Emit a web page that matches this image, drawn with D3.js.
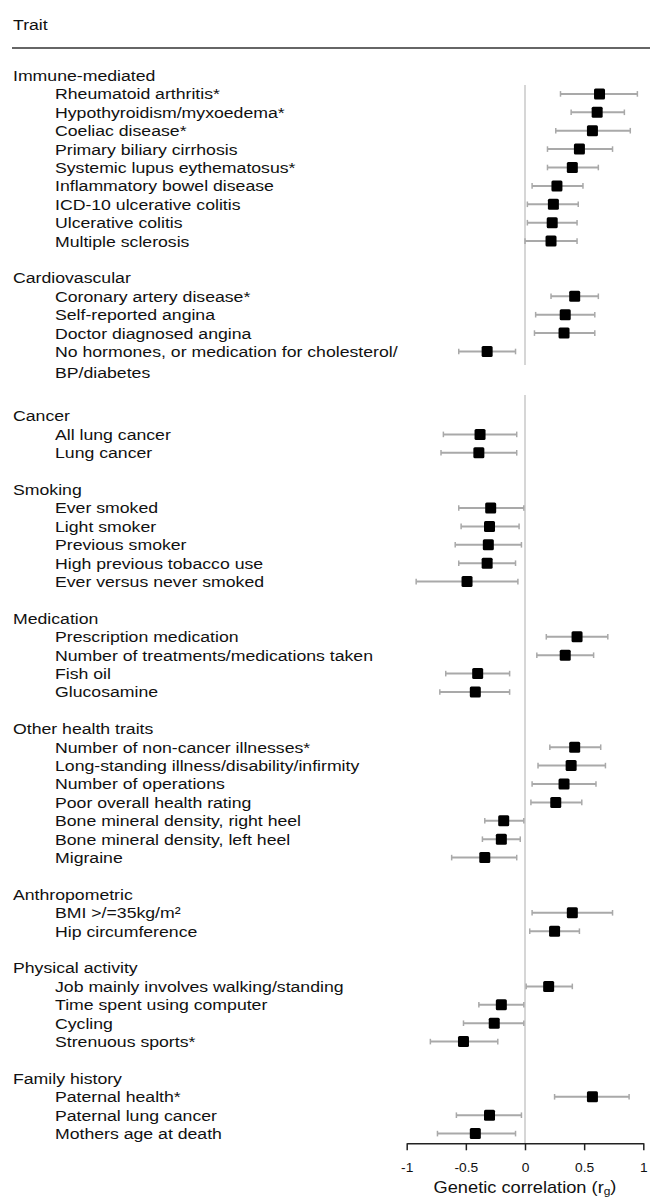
<!DOCTYPE html>
<html>
<head>
<meta charset="utf-8">
<script src="https://cdn.jsdelivr.net/npm/d3@7"></script>
<style>
  body { margin: 0; background: #fff; }
  svg { display: block; font-family: "Liberation Sans", Arial, sans-serif; }
</style>
</head>
<body>
<div id="chart"></div>
<script>

//
// data
//
var groupNames = ["Immune-mediated", "Cardiovascular", "Cancer", "Smoking", "Medication",
  "Other health traits", "Anthropometric", "Physical activity", "Family history"];

var traitGroup = [0,0,0,0,0,0,0,0,0, 1,1,1,1, 2,2, 3,3,3,3,3, 4,4,4,4, 5,5,5,5,5,5,5, 6,6, 7,7,7,7, 8,8,8];

var traitNames = [
  "Rheumatoid arthritis*", "Hypothyroidism/myxoedema*", "Coeliac disease*", "Primary biliary cirrhosis",
  "Systemic lupus eythematosus*", "Inflammatory bowel disease", "ICD-10 ulcerative colitis",
  "Ulcerative colitis", "Multiple sclerosis",
  "Coronary artery disease*", "Self-reported angina", "Doctor diagnosed angina",
  "No hormones, or medication for cholesterol/\nBP/diabetes",
  "All lung cancer", "Lung cancer",
  "Ever smoked", "Light smoker", "Previous smoker", "High previous tobacco use", "Ever versus never smoked",
  "Prescription medication", "Number of treatments/medications taken", "Fish oil", "Glucosamine",
  "Number of non-cancer illnesses*", "Long-standing illness/disability/infirmity", "Number of operations",
  "Poor overall health rating", "Bone mineral density, right heel", "Bone mineral density, left heel", "Migraine",
  "BMI >/=35kg/m²", "Hip circumference",
  "Job mainly involves walking/standing", "Time spent using computer", "Cycling", "Strenuous sports*",
  "Paternal health*", "Paternal lung cancer", "Mothers age at death"
];

var rg = [0.63, 0.61, 0.57, 0.46, 0.40, 0.27, 0.24, 0.23, 0.22,
  0.42, 0.34, 0.33, -0.32,
  -0.38, -0.39,
  -0.29, -0.30, -0.31, -0.32, -0.49,
  0.44, 0.34, -0.40, -0.42,
  0.42, 0.39, 0.33, 0.26, -0.18, -0.20, -0.34,
  0.40, 0.25,
  0.20, -0.20, -0.26, -0.52,
  0.57, -0.30, -0.42];

var ciLow = [0.30, 0.39, 0.26, 0.19, 0.19, 0.06, 0.02, 0.02, 0.00,
  0.22, 0.09, 0.08, -0.56,
  -0.69, -0.71,
  -0.56, -0.54, -0.59, -0.56, -0.92,
  0.18, 0.10, -0.67, -0.72,
  0.21, 0.11, 0.06, 0.05, -0.34, -0.36, -0.62,
  0.06, 0.04,
  0.01, -0.39, -0.52, -0.80,
  0.25, -0.58, -0.74];

var ciHigh = [0.95, 0.84, 0.89, 0.74, 0.62, 0.49, 0.45, 0.44, 0.44,
  0.62, 0.59, 0.59, -0.08,
  -0.07, -0.07,
  -0.01, -0.05, -0.03, -0.08, -0.06,
  0.70, 0.58, -0.13, -0.13,
  0.64, 0.68, 0.60, 0.48, -0.01, -0.04, -0.07,
  0.74, 0.46,
  0.40, -0.01, -0.01, -0.23,
  0.88, -0.03, -0.08];

var tickValues = [-1, -0.5, 0, 0.5, 1];
var tickLabels = ["-1", "-0.5", "0", "0.5", "1"];

//
// setup
//
var width = 654, height = 1198;
var stretch = 1.14;   // text in the figure is a bit wide

var svg = d3.select("#chart").append("svg")
    .attr("width", width)
    .attr("height", height);

var x = d3.scaleLinear().domain([-1, 1]).range([406.7, 643.3]);

// two stacked panels, rows counted within each
var yTop = d3.scaleLinear().domain([0, 1]).range([75.5, 93.9]);
var yBottom = d3.scaleLinear().domain([0, 1]).range([416, 434.4]);

// build row list: heading, items, blank
var rows = [];
var labels = [];
var rowIdx = 0, panel = 0;
groupNames.forEach(function(g, gi) {
  if (gi === 2) { panel = 1; rowIdx = 0; }
  var yScale = panel === 0 ? yTop : yBottom;
  labels.push({ text: g, x: 13, y: yScale(rowIdx), heading: true });
  rowIdx++;
  traitGroup.forEach(function(tg, i) {
    if (tg !== gi) return;
    var y = yScale(rowIdx);
    labels.push({ text: traitNames[i], x: 55, y: y, heading: false });
    rows.push({ y: y, est: rg[i], lo: ciLow[i], hi: ciHigh[i] });
    rowIdx++;
  });
  rowIdx++;
});

//
// header
//
svg.append("text")
    .attr("transform", "translate(13,25) scale(" + stretch + ",1)")
    .attr("dy", "0.35em")
    .attr("font-size", 15.5)
    .attr("fill", "#111")
    .text("Trait");

svg.append("line")
    .attr("x1", 12).attr("x2", 650)
    .attr("y1", 48).attr("y2", 48)
    .attr("stroke", "#333")
    .attr("stroke-width", 1.6);

//
// zero lines (one per panel)
//
svg.selectAll("line.zero")
    .data([[85, 365], [395, 1143]])
    .enter().append("line")
    .attr("class", "zero")
    .attr("x1", x(0)).attr("x2", x(0))
    .attr("y1", function(d) { return d[0]; })
    .attr("y2", function(d) { return d[1]; })
    .attr("stroke", "#c8c8c8")
    .attr("stroke-width", 1.5);

//
// labels
//
var lab = svg.selectAll("text.lab")
    .data(labels)
    .enter().append("text")
    .attr("class", "lab")
    .attr("transform", function(d) { return "translate(" + d.x + "," + d.y + ") scale(" + stretch + ",1)"; })
    .attr("font-size", 15.5)
    .attr("fill", "#111");

lab.each(function(d) {
  var parts = d.text.split("\n");
  var t = d3.select(this);
  parts.forEach(function(p, k) {
    t.append("tspan")
      .attr("x", 0)
      .attr("y", k === 0 ? 0 : 21.5)
      .attr("dy", "0.35em")
      .text(p);
  });
});

//
// CI bars + markers
//
var g = svg.append("g");

g.selectAll("line.ci")
    .data(rows)
    .enter().append("line")
    .attr("class", "ci")
    .attr("x1", function(d) { return x(d.lo); })
    .attr("x2", function(d) { return x(d.hi); })
    .attr("y1", function(d) { return d.y; })
    .attr("y2", function(d) { return d.y; })
    .attr("stroke", "#a9a9a9")
    .attr("stroke-width", 2);

var caps = [];
rows.forEach(function(d) { caps.push({ v: d.lo, y: d.y }, { v: d.hi, y: d.y }); });

g.selectAll("line.cap")
    .data(caps)
    .enter().append("line")
    .attr("class", "cap")
    .attr("x1", function(d) { return x(d.v); })
    .attr("x2", function(d) { return x(d.v); })
    .attr("y1", function(d) { return d.y - 2.8; })
    .attr("y2", function(d) { return d.y + 2.8; })
    .attr("stroke", "#a9a9a9")
    .attr("stroke-width", 1.5);

var sq = 11;
g.selectAll("rect.est")
    .data(rows)
    .enter().append("rect")
    .attr("class", "est")
    .attr("x", function(d) { return x(d.est) - sq / 2; })
    .attr("y", function(d) { return d.y - sq / 2; })
    .attr("width", sq)
    .attr("height", sq)
    .attr("rx", 1.5)
    .attr("fill", "#000");

//
// x axis
//
var axis = svg.append("g")
    .attr("transform", "translate(0,1143.3)")
    .call(d3.axisBottom(x)
      .tickValues(tickValues)
      .tickSize(7)
      .tickSizeOuter(0)
      .tickFormat(function(d, i) { return tickLabels[i]; }));

axis.select(".domain").attr("stroke", "#222").attr("stroke-width", 1.5);
axis.selectAll(".tick line").attr("stroke", "#222").attr("stroke-width", 1.5);
axis.selectAll(".tick text")
    .attr("font-family", "Liberation Sans, Arial, sans-serif")
    .attr("font-size", 13)
    .attr("fill", "#111")
    .attr("y", 0)
    .attr("dy", 0)
    .attr("transform", "translate(0,24.5) scale(1.06,1)")
    .attr("dominant-baseline", "central");

var title = svg.append("text")
    .attr("transform", "translate(" + x(0) + ",1187.5) scale(" + stretch + ",1)")
    .attr("text-anchor", "middle")
    .attr("dy", "0.35em")
    .attr("font-size", 16)
    .attr("fill", "#111");
title.append("tspan").text("Genetic correlation (r");
title.append("tspan").attr("font-size", 10.5).attr("dy", "0.22em").text("g");
title.append("tspan").attr("dy", "-0.22em").text(")");

</script>
</body>
</html>
